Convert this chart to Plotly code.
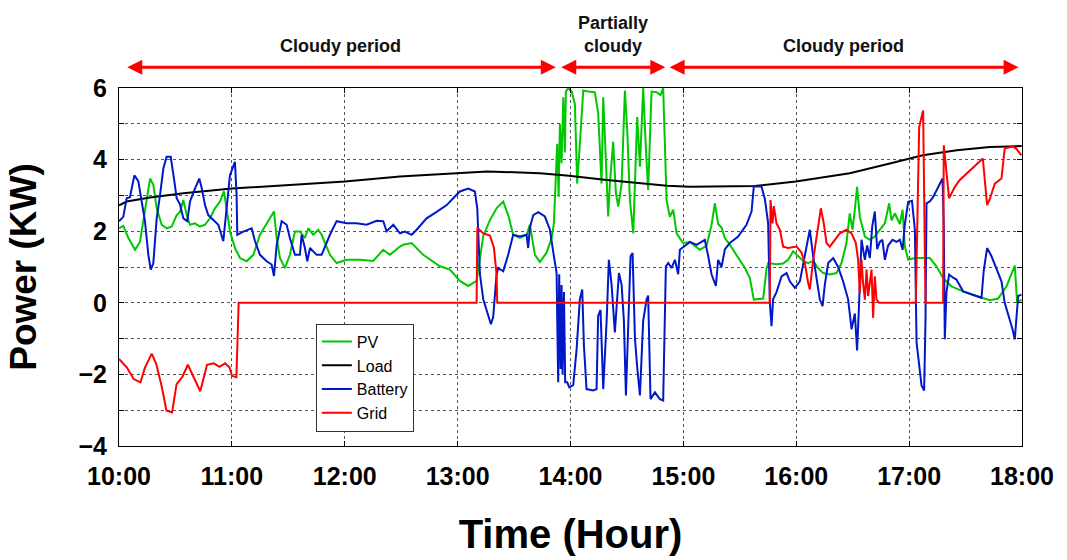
import plotly.graph_objects as go

# ---------------- data (time in hours, power in kW) ----------------
load_t = [10.000, 10.068, 10.275, 10.570, 11.001, 12.002, 12.489, 12.994, 13.260, 13.729,
          13.986, 14.322, 14.854, 15.058, 15.633, 15.996, 16.474, 16.829, 16.997, 17.121,
          17.422, 17.715, 17.998]
load_kw = [2.72, 2.83, 2.94, 3.06, 3.19, 3.39, 3.53, 3.61, 3.67, 3.62,
           3.55, 3.43, 3.27, 3.24, 3.26, 3.39, 3.62, 3.89, 4.02, 4.12,
           4.26, 4.35, 4.38]

pv_t = [10.000, 10.038, 10.083, 10.142, 10.186, 10.230, 10.275, 10.304, 10.334, 10.378,
        10.422, 10.467, 10.511, 10.540, 10.570, 10.600, 10.629, 10.673, 10.717, 10.762,
        10.806, 10.850, 10.895, 10.930, 10.954, 10.983, 11.027, 11.072, 11.131, 11.190,
        11.249, 11.308, 11.352, 11.373, 11.397, 11.426, 11.470, 11.514, 11.559, 11.603,
        11.647, 11.677, 11.721, 11.765, 11.795, 11.869, 11.928, 12.017, 12.135, 12.252,
        12.341, 12.400, 12.489, 12.518, 12.593, 12.695, 12.843, 12.932, 13.020, 13.094,
        13.168, 13.227, 13.286, 13.345, 13.404, 13.448, 13.492, 13.552, 13.611, 13.640,
        13.685, 13.729, 13.788, 13.833, 13.853, 13.871, 13.882, 13.895, 13.906, 13.921,
        13.936, 13.950, 13.959, 13.980, 14.010, 14.039, 14.059, 14.083, 14.113, 14.157,
        14.216, 14.245, 14.260, 14.275, 14.290, 14.305, 14.334, 14.349, 14.364, 14.378,
        14.402, 14.423, 14.453, 14.482, 14.503, 14.526, 14.556, 14.571, 14.591, 14.615,
        14.644, 14.668, 14.688, 14.718, 14.763, 14.798, 14.821, 14.851, 14.880, 14.910,
        14.940, 14.969, 14.998, 15.058, 15.146, 15.206, 15.250, 15.279, 15.308, 15.338,
        15.368, 15.412, 15.471, 15.545, 15.589, 15.624, 15.707, 15.736, 15.751, 15.825,
        15.884, 15.928, 15.973, 16.017, 16.061, 16.105, 16.150, 16.194, 16.238, 16.297,
        16.356, 16.401, 16.445, 16.474, 16.498, 16.519, 16.539, 16.563, 16.608, 16.652,
        16.696, 16.740, 16.785, 16.823, 16.844, 16.873, 16.918, 16.942, 16.962, 16.992,
        17.051, 17.124, 17.183, 17.242, 17.301, 17.375, 17.478, 17.597, 17.715, 17.788,
        17.863, 17.936, 17.957, 17.995]
pv_kw = [2.08, 2.15, 1.81, 1.48, 1.70, 2.64, 3.47, 3.30, 2.64, 2.18,
         2.08, 2.13, 2.45, 2.54, 2.87, 2.45, 2.18, 2.22, 2.13, 2.18,
         2.36, 2.64, 2.83, 3.11, 2.64, 2.00, 1.53, 1.25, 1.16, 1.34,
         1.90, 2.22, 2.45, 2.55, 1.81, 1.25, 0.97, 1.34, 1.99, 1.99,
         1.81, 2.08, 1.90, 2.04, 1.90, 1.34, 1.11, 1.20, 1.20, 1.17,
         1.48, 1.34, 1.57, 1.62, 1.67, 1.34, 1.02, 0.93, 0.61, 0.47,
         0.61, 1.86, 2.31, 2.64, 2.83, 2.45, 1.90, 1.81, 1.90, 2.18,
         1.34, 1.14, 1.40, 1.81, 2.22, 3.52, 4.44, 2.96, 5.00, 3.90,
         5.74, 4.20, 5.90, 6.00, 5.90, 5.55, 3.33, 4.44, 5.93, 5.90,
         5.88, 5.30, 4.44, 3.33, 5.74, 4.70, 2.41, 3.33, 3.98, 4.50,
         3.06, 2.69, 3.33, 5.93, 4.80, 2.87, 1.94, 3.33, 5.19, 3.80,
         6.00, 4.30, 3.15, 5.90, 5.88, 5.80, 6.00, 2.87, 2.40, 2.60,
         1.94, 1.80, 1.67, 1.70, 1.48, 1.60, 2.18, 2.78, 2.20, 2.10,
         1.81, 1.62, 1.34, 0.97, 0.69, 0.09, 0.12, 0.93, 1.11, 1.08,
         1.10, 1.20, 1.44, 1.30, 1.17, 1.11, 1.17, 0.97, 0.83, 0.79,
         0.83, 1.11, 1.67, 2.50, 2.04, 2.60, 3.24, 2.40, 1.85, 1.76,
         1.85, 2.04, 2.22, 2.78, 2.30, 2.50, 2.20, 2.60, 1.57, 1.20,
         1.25, 1.25, 1.25, 1.02, 0.69, 0.46, 0.32, 0.19, 0.07, 0.12,
         0.46, 1.04, 0.00, 0.09]

bat_t = [10.000, 10.038, 10.068, 10.097, 10.136, 10.171, 10.201, 10.230, 10.260, 10.281,
         10.304, 10.334, 10.363, 10.393, 10.422, 10.458, 10.487, 10.511, 10.540, 10.570,
         10.605, 10.629, 10.673, 10.711, 10.733, 10.762, 10.791, 10.835, 10.880, 10.924,
         10.954, 10.983, 11.027, 11.042, 11.048, 11.101, 11.175, 11.205, 11.249, 11.308,
         11.352, 11.373, 11.397, 11.441, 11.485, 11.514, 11.559, 11.603, 11.618, 11.647,
         11.668, 11.692, 11.751, 11.795, 11.869, 11.928, 12.017, 12.105, 12.194, 12.283,
         12.341, 12.371, 12.430, 12.489, 12.533, 12.593, 12.637, 12.725, 12.814, 12.903,
         12.961, 13.020, 13.094, 13.153, 13.174, 13.183, 13.198, 13.227, 13.271, 13.295,
         13.315, 13.345, 13.360, 13.404, 13.448, 13.492, 13.552, 13.611, 13.625, 13.640,
         13.670, 13.714, 13.773, 13.817, 13.853, 13.877, 13.882, 13.891, 13.900, 13.912,
         13.921, 13.930, 13.942, 13.953, 13.971, 13.989, 14.024, 14.054, 14.083, 14.104,
         14.119, 14.142, 14.201, 14.231, 14.245, 14.266, 14.290, 14.320, 14.340, 14.364,
         14.393, 14.429, 14.453, 14.473, 14.491, 14.511, 14.532, 14.550, 14.571, 14.591,
         14.615, 14.644, 14.674, 14.688, 14.709, 14.748, 14.792, 14.821, 14.845, 14.866,
         14.895, 14.925, 14.954, 14.969, 15.014, 15.058, 15.117, 15.190, 15.220, 15.250,
         15.288, 15.308, 15.338, 15.368, 15.412, 15.485, 15.559, 15.604, 15.624, 15.692,
         15.722, 15.751, 15.766, 15.781, 15.795, 15.825, 15.870, 15.914, 15.943, 15.988,
         16.032, 16.076, 16.120, 16.150, 16.180, 16.209, 16.233, 16.253, 16.283, 16.327,
         16.371, 16.415, 16.460, 16.490, 16.519, 16.539, 16.557, 16.578, 16.608, 16.628,
         16.652, 16.673, 16.696, 16.717, 16.740, 16.763, 16.785, 16.814, 16.853, 16.888,
         16.918, 16.942, 16.962, 16.992, 17.025, 17.051, 17.066, 17.089, 17.110, 17.133,
         17.145, 17.154, 17.183, 17.212, 17.257, 17.296, 17.307, 17.316, 17.331, 17.354,
         17.390, 17.419, 17.478, 17.538, 17.597, 17.641, 17.661, 17.691, 17.730, 17.774,
         17.818, 17.847, 17.877, 17.916, 17.936, 17.951, 17.966, 17.995]
bat_kw = [2.28, 2.40, 2.92, 2.95, 3.56, 3.40, 2.83, 2.28, 1.34, 0.93,
          1.10, 2.36, 3.00, 3.75, 4.08, 4.08, 3.47, 2.92, 2.75, 2.36,
          2.28, 2.83, 3.19, 3.47, 3.20, 2.73, 2.45, 2.31, 2.18, 1.72,
          2.64, 3.56, 3.94, 3.00, 1.90, 1.99, 2.08, 1.72, 1.34, 1.16,
          1.07, 0.75, 1.62, 2.28, 2.18, 1.81, 1.34, 1.34, 1.90, 1.53,
          1.16, 1.53, 1.34, 1.34, 1.90, 2.28, 2.22, 2.22, 2.18, 2.29,
          2.28, 2.00, 2.18, 1.94, 1.99, 1.90, 2.04, 2.36, 2.54, 2.73,
          2.92, 3.11, 3.19, 3.11, 2.64, 1.72, 0.79, 0.10, -0.40, -0.60,
          -0.40, 0.79, 0.97, 0.88, 1.34, 1.90, 1.85, 1.90, 1.53, 2.10,
          2.45, 2.53, 2.41, 2.05, 1.30, 0.83, -0.37, -2.22, 0.80, -1.85,
          0.50, -2.00, 0.30, -2.22, -2.22, -2.36, -2.30, -1.30, 0.10, 0.37,
          -1.20, -2.41, -2.45, -2.41, -0.37, -0.20, -2.41, -0.50, 1.20, 0.50,
          -0.83, 0.83, 0.50, -0.50, -2.59, -0.50, 1.30, 1.39, -1.00, -1.80,
          -2.59, -0.50, 0.09, 0.20, -2.69, -2.50, -2.69, -2.73, 1.02, 1.11,
          0.97, 1.20, 0.80, 1.48, 1.60, 1.70, 1.62, 1.76, 1.30, 0.79,
          0.47, 1.20, 1.00, 1.50, 1.67, 1.85, 2.18, 2.55, 3.25, 3.25,
          2.90, 2.22, 0.00, -0.65, 0.10, 0.30, 0.74, 0.83, 0.60, 0.42,
          0.60, 1.30, 2.04, 1.30, 0.70, 0.09, -0.09, 0.50, 1.11, 1.25,
          1.00, 0.60, 0.09, -0.74, -0.30, -1.33, 0.00, 1.76, 1.20, 1.60,
          1.25, 2.13, 2.55, 1.50, 1.70, 1.76, 1.20, 1.60, 1.76, 1.70,
          1.76, 1.48, 2.20, 2.82, 2.85, 2.04, -1.11, -1.80, -2.31, -2.45,
          -0.50, 2.78, 2.83, 2.95, 3.24, 3.47, 2.13, -1.02, 0.30, 0.79,
          0.70, 0.65, 0.32, 0.25, 0.20, 0.14, 0.90, 1.53, 1.30, 0.97,
          0.60, 0.00, -0.30, -0.74, -1.02, -0.50, 0.19, 0.23]

grid_t = [10.00, 10.07, 10.13, 10.19, 10.23, 10.29, 10.33, 10.38, 10.42, 10.47,
          10.51, 10.56, 10.61, 10.66, 10.72, 10.78, 10.84, 10.89, 10.94, 10.98,
          11.00, 11.04, 11.05, 11.06, 13.168, 13.175, 13.227, 13.286, 13.322, 13.345,
          13.351, 15.766, 15.772, 15.790, 15.801, 15.825, 15.855, 15.884, 15.928, 16.003,
          16.047, 16.076, 16.105, 16.120, 16.150, 16.194, 16.218, 16.244, 16.268, 16.297,
          16.342, 16.386, 16.445, 16.490, 16.528, 16.548, 16.563, 16.578, 16.592, 16.608,
          16.623, 16.637, 16.652, 16.667, 16.681, 16.696, 16.711, 16.734, 17.059, 17.089,
          17.124, 17.145, 17.301, 17.307, 17.354, 17.405, 17.449, 17.538, 17.608, 17.653,
          17.691, 17.715, 17.759, 17.818, 17.847, 17.918, 17.951, 17.995]
grid_kw = [-1.57, -1.81, -2.13, -2.22, -1.81, -1.42, -1.71, -2.36, -3.01, -3.06,
           -2.27, -2.08, -1.73, -2.08, -2.47, -1.73, -1.69, -1.79, -1.69, -1.81,
           -2.04, -2.08, -0.56, 0.00, 0.00, 2.10, 1.94, 1.88, 1.53, 0.79,
           0.00, 0.00, 2.87, 2.22, 2.70, 2.22, 2.04, 1.57, 1.53, 1.57,
           1.40, 1.11, 0.56, 0.37, 1.20, 2.22, 2.64, 2.22, 1.67, 1.57,
           1.76, 1.94, 2.04, 1.94, 1.67, 1.20, 0.28, 1.20, 0.56, 0.09,
           0.93, 0.19, 0.56, 0.93, -0.42, 0.74, 0.09, 0.00, 0.00, 4.90,
           5.37, 0.00, 0.00, 4.40, 2.92, 3.24, 3.43, 3.70, 3.89, 4.03,
           2.73, 2.90, 3.33, 3.47, 4.31, 4.37, 4.30, 4.12]

x_tick_vals = [10, 11, 12, 13, 14, 15, 16, 17, 18]
x_tick_text = ["10:00", "11:00", "12:00", "13:00", "14:00", "15:00", "16:00", "17:00", "18:00"]
y_tick_vals = [-4, -2, 0, 2, 4, 6]

# periods: label, start hour, end hour
periods = [("Cloudy period", 10.06, 13.87),
           ("Partially<br>cloudy", 13.905, 14.84),
           ("Cloudy period", 14.865, 17.97)]

FONT = "Liberation Sans, Arial, sans-serif"

fig = go.Figure()
series = [("PV", pv_t, pv_kw, "#00c800"),
          ("Load", load_t, load_kw, "#000000"),
          ("Battery", bat_t, bat_kw, "#0018c8"),
          ("Grid", grid_t, grid_kw, "#ff0000")]
for name, t, v, c in series:
    fig.add_trace(go.Scatter(x=t, y=v, mode="lines", name=name,
                             line=dict(color=c, width=2)))

for label, t0, t1 in periods:
    fig.add_annotation(x=t1, y=1.058, xref="x", yref="paper",
                       ax=t0, ay=0, axref="x", ayref="pixel",
                       showarrow=True, arrowhead=2, arrowside="end+start",
                       arrowsize=1.0, arrowwidth=3, arrowcolor="#ff0000", text="")
    fig.add_annotation(x=(t0 + t1) / 2, y=1.085, xref="x", yref="paper",
                       text=label, showarrow=False, yanchor="bottom",
                       font=dict(family=FONT, size=18, color="#111111", weight="bold"))

axis_common = dict(showline=True, linecolor="black", linewidth=1, mirror="ticks",
                   ticks="inside", ticklen=5, tickcolor="black",
                   showgrid=True, gridcolor="#555555", gridwidth=1, griddash="dot",
                   zeroline=False,
                   tickfont=dict(family=FONT, size=25, color="black", weight="bold"))

fig.update_xaxes(range=[10, 18], tickvals=x_tick_vals, ticktext=x_tick_text,
                 ticklabelstandoff=8,
                 title=dict(text="Time (Hour)", standoff=30,
                            font=dict(family=FONT, size=40, color="black", weight="bold")),
                 **axis_common)
fig.update_yaxes(range=[-4, 6], tickvals=y_tick_vals, ticklabelstandoff=6,
                 minor=dict(dtick=1, tick0=0, ticks="inside", ticklen=5, tickcolor="black",
                            showgrid=True, gridcolor="#555555", gridwidth=1, griddash="dot"),
                 title=dict(text="Power (KW)", standoff=30,
                            font=dict(family=FONT, size=37, color="black", weight="bold")),
                 **axis_common)

fig.update_layout(width=1067, height=560,
                  margin=dict(l=119, r=45, t=88, b=112),
                  paper_bgcolor="white", plot_bgcolor="white",
                  legend=dict(x=0.218, y=0.342, xanchor="left", yanchor="top",
                              bgcolor="white", bordercolor="#333333", borderwidth=1,
                              font=dict(family=FONT, size=16, color="black"),
                              tracegroupgap=0, itemwidth=30),
                  showlegend=True)

fig.write_html("out.html")
